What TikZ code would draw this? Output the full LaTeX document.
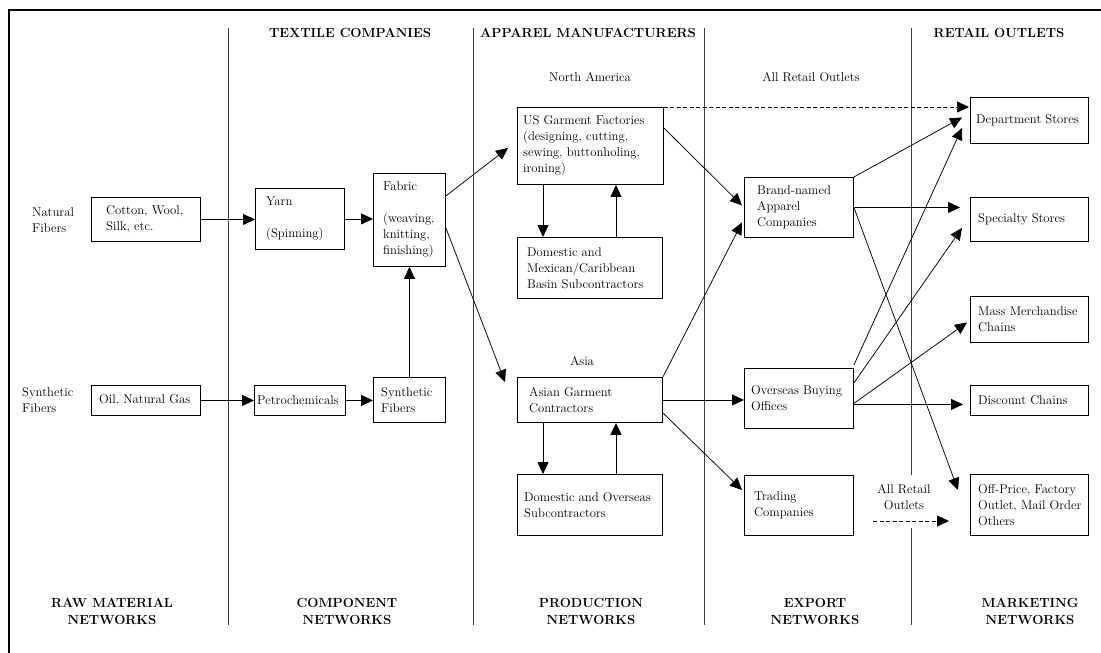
\documentclass[tikz,border=0pt]{standalone}
\usetikzlibrary{arrows.meta,calc}
% box: name, left, top, width, height, left padding, text
\newcommand\chainbox[7]{%
  \node[box, minimum width=#4pt, minimum height=#5pt,
        label={[boxtext, xshift=#6pt]west:{#7}}] (#1) at (#2,#3) {};}
\begin{document}
\begin{tikzpicture}[x=1pt,y=-1pt,
  every node/.style={font=\fontsize{12.7}{16}\selectfont},
  box/.style={draw, line width=0.9pt, inner sep=0pt, anchor=north west},
  boxtext/.style={anchor=west, align=left, inner sep=0pt},
  plain/.style={align=center, inner sep=0pt},
  hdr/.style={font=\bfseries\fontsize{13.2}{17}\selectfont, align=center, inner sep=0pt},
  sep/.style={line width=0.8pt, draw=black!75},
  arr/.style={line width=0.75pt, -{Triangle[length=12pt,width=11pt]}},
  darr/.style={arr, dash pattern=on 4pt off 2.5pt}]
\useasboundingbox (0,0) rectangle (1101,653);

% frame
\draw[line width=2.6pt] (9,653) -- (9,10) -- (1101,10);

% column separators
\draw[sep] (228,28) -- (228,625);
\draw[sep] (473,28) -- (473,625);
\draw[sep] (704,28) -- (704,625);
\draw[sep] (911,28) -- (911,475);
\draw[sep] (911,528) -- (911,625);

% column headings
\node[hdr] (hTextile) at (350,33) {TEXTILE COMPANIES};
\node[hdr] (hApparel) at (588,33) {APPAREL MANUFACTURERS};
\node[hdr] (hRetail) at (999,33) {RETAIL OUTLETS};

\node[hdr] (fRaw) at (112,611) {RAW MATERIAL\\NETWORKS};
\node[hdr] (fComp) at (347,611) {COMPONENT\\NETWORKS};
\node[hdr] (fProd) at (591,611) {PRODUCTION\\NETWORKS};
\node[hdr] (fExp) at (815,611) {EXPORT\\NETWORKS};
\node[hdr] (fMkt) at (1030,611) {MARKETING\\NETWORKS};

% region labels
\node[plain] (lNA) at (590,77) {North America};
\node[plain] (lAll) at (811,77) {All Retail Outlets};
\node[plain] (lAsia) at (582,361) {Asia};
\node[plain, align=left, anchor=west] (lNat) at (32,220) {Natural\\Fibers};
\node[plain, align=left, anchor=west] (lSyn) at (22,400) {Synthetic\\Fibers};
\node[plain] (lAllB) at (904,497) {All Retail\\Outlets};

% boxes
\chainbox{cotton}{91}{197}{109}{44}{15}{Cotton, Wool,\\Silk, etc.}
\chainbox{oil}{91}{385}{109}{30}{8}{Oil, Natural Gas}
\chainbox{yarn}{255}{188}{89}{61}{11}{Yarn\\[16pt](Spinning)}
\chainbox{petro}{254}{385}{91}{30}{3}{Petrochemicals}
\chainbox{fabric}{373}{173}{72}{93}{10}{Fabric\\[16pt](weaving,\\knitting,\\finishing)}
\chainbox{synth}{373}{377}{72}{45}{8}{Synthetic\\Fibers}
\chainbox{usg}{517}{107}{146}{77}{6}{US Garment Factories\\(designing, cutting,\\sewing, buttonholing,\\ironing)}
\chainbox{dmex}{517}{237}{145}{61}{10}{Domestic and\\Mexican/Caribbean\\Basin Subcontractors}
\chainbox{asian}{517}{377}{145}{45}{12}{Asian Garment\\Contractors}
\chainbox{dover}{517}{474}{145}{61}{7}{Domestic and Overseas\\Subcontractors}
\chainbox{brand}{744}{177}{109}{60}{13}{Brand-named\\Apparel\\Companies}
\chainbox{overseas}{744}{368}{109}{60}{7}{Overseas Buying\\Offices}
\chainbox{trading}{744}{475}{109}{60}{10}{Trading\\Companies}
\chainbox{dept}{970}{97}{118}{46}{6}{Department Stores}
\chainbox{spec}{970}{197}{118}{44}{8}{Specialty Stores}
\chainbox{mass}{970}{296}{118}{46}{8}{Mass Merchandise\\Chains}
\chainbox{disc}{970}{385}{118}{30}{8}{Discount Chains}
\chainbox{offp}{970}{474}{118}{61}{8}{Off-Price, Factory\\Outlet, Mail Order\\Others}

% raw materials and components
\draw[arr] (cotton.east) -- (cotton.east -| yarn.west);
\draw[arr] (yarn.east) -- (yarn.east -| fabric.west);
\draw[arr] (oil.east) -- (oil.east -| petro.west);
\draw[arr] (petro.east) -- (petro.east -| synth.west);
\draw[arr] (synth.north) -- (fabric.south);

% fabric to garment makers
\draw[arr] ($(fabric.east)+(0,-24)$) -- ($(usg.west)+(-9,2)$);
\draw[arr] ($(fabric.east)+(0,8)$) -- ($(asian.north west)+(-12,5)$);

% subcontracting loops
\draw[arr] ($(usg.south west)+(26,0)$) -- ($(dmex.north west)+(26,0)$);
\draw[arr] ($(dmex.north west)+(99,0)$) -- ($(usg.south west)+(99,0)$);
\draw[arr] ($(asian.south west)+(26,0)$) -- ($(dover.north west)+(26,0)$);
\draw[arr] ($(dover.north west)+(99,0)$) -- ($(asian.south west)+(99,0)$);

% garment makers to export networks
\draw[arr] ($(usg.north east)+(0,21)$) -- ($(brand.west)+(-2,-2)$);
\draw[arr] (asian.north east) -- ($(brand.west)+(-2,15)$);
\draw[arr] (asian.east) -- (asian.east -| overseas.west);
\draw[arr] ($(asian.east)+(0,13)$) -- ($(trading.north west)+(-2,15)$);
\draw[darr] (usg.north east) -- ($(usg.north east -| dept.west)+(-1,0)$);

% export networks to retail outlets
\draw[arr] (brand.north east) -- ($(dept.west)+(-8,-3)$);
\draw[arr] (brand.east) -- ($(brand.east -| spec.west)+(-10,0)$);
\draw[arr] (brand.east) -- ($(offp.north west)+(-12,16)$);
\draw[arr] ($(overseas.north east)+(0,-3)$) -- ($(dept.south west)+(-8,-16)$);
\draw[arr] ($(overseas.north east)+(0,15)$) -- ($(spec.south west)+(-8,-14)$);
\draw[arr] ($(overseas.east)+(0,5)$) -- ($(mass.west)+(-3,3)$);
\draw[arr] ($(overseas.east)+(0,6)$) -- ($(disc.west)+(-7,4)$);

% trading companies reach all outlets
\coordinate (allA) at (873,521);
\coordinate (allB) at (949,521);
\draw[darr] (allA) -- (allB);
\end{tikzpicture}
\end{document}
